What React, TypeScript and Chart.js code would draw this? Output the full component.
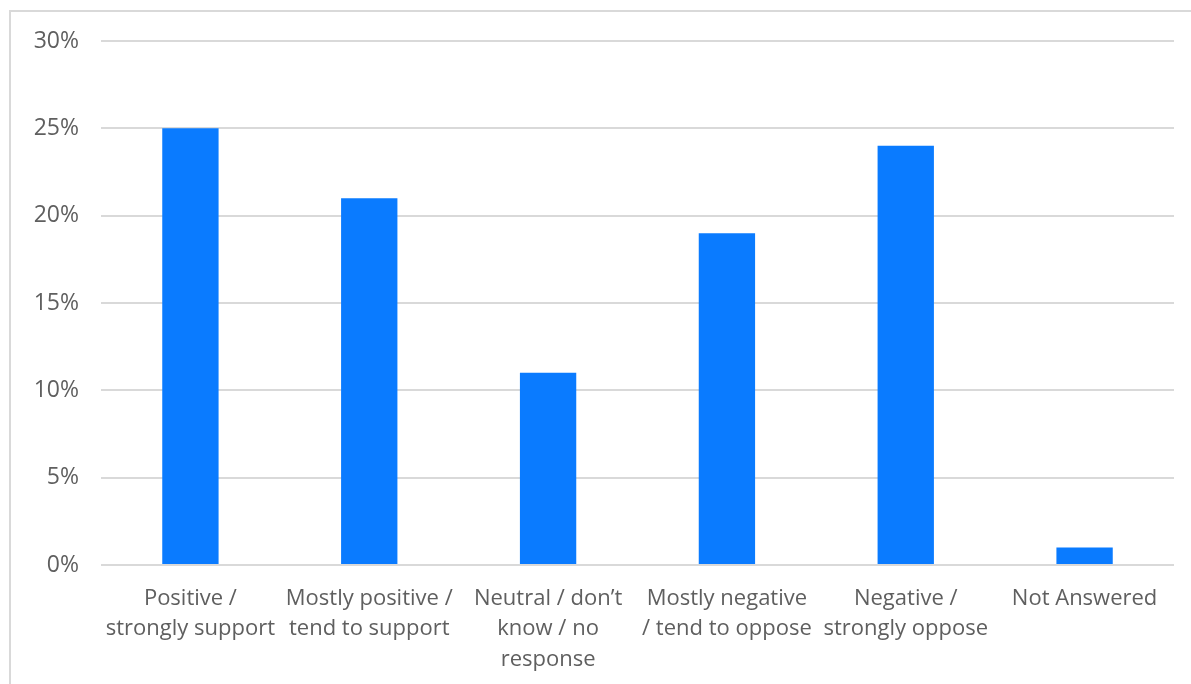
import React, { useEffect, useRef } from "react";
import { Chart, registerables } from "chart.js";

Chart.register(...registerables);

const categories: string[][] = [
  ["Positive /", "strongly support"],
  ["Mostly positive /", "tend to support"],
  ["Neutral / don’t", "know / no", "response"],
  ["Mostly negative", "/ tend to oppose"],
  ["Negative /", "strongly oppose"],
  ["Not Answered"],
];
const values: number[] = [25, 21, 11, 19, 24, 1];
const yTicks: number[] = [0, 5, 10, 15, 20, 25, 30];

const FONT = "'Open Sans', 'Noto Sans', sans-serif";

export default function App() {
  const ref = useRef<HTMLCanvasElement>(null);
  useEffect(() => {
    document.body.style.margin = "0";
    const chart = new Chart(ref.current!, {
      type: "bar",
      data: {
        labels: categories,
        datasets: [
          {
            data: values,
            backgroundColor: "#0A7BFF",
            borderWidth: 0,
            categoryPercentage: 1,
            barPercentage: 0.315,
          },
        ],
      },
      options: {
        animation: false,
        responsive: false,
        maintainAspectRatio: false,
        layout: { padding: { top: 41, right: 17, left: 0, bottom: 0 } },
        plugins: { legend: { display: false }, tooltip: { enabled: false } },
        scales: {
          x: {
            grid: { display: false, drawTicks: false },
            border: { display: false },
            ticks: {
              autoSkip: false,
              maxRotation: 0,
              minRotation: 0,
              padding: 18,
              color: "#5f5f5f",
              font: { family: FONT, size: 22, lineHeight: 1.4 },
            },
            afterFit: (s: any) => {
              s.height = 119;
            },
          },
          y: {
            min: 0,
            max: 30,
            afterBuildTicks: (s: any) => {
              s.ticks = yTicks.map((v) => ({ value: v }));
            },
            grid: { color: "#d9d9d9", lineWidth: 2, drawTicks: false },
            border: { display: false },
            ticks: {
              padding: 22,
              color: "#5f5f5f",
              font: { family: FONT, size: 23 },
              callback: (v: any) => v + "%",
            },
            afterFit: (s: any) => {
              s.width = 101;
            },
          },
        },
      },
    });
    return () => chart.destroy();
  }, []);
  return (
    <div style={{ position: "fixed", inset: 0, overflow: "hidden", background: "#fff" }}>
      <div
        style={{
          position: "absolute",
          left: 9,
          top: 10,
          width: 1400,
          height: 900,
          border: "2px solid #d9d9d9",
        }}
      />
      <canvas
        ref={ref}
        width={1191}
        height={684}
        style={{ position: "absolute", left: 0, top: 0, width: 1191, height: 684 }}
      />
    </div>
  );
}
